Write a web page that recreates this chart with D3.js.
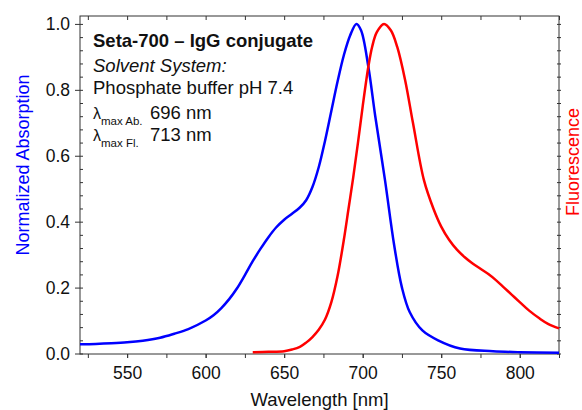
<!DOCTYPE html>
<html lang="en">
<head>
    <meta charset="UTF-8">
    <title>Seta-700 IgG conjugate spectra</title>
    <script src="https://d3js.org/d3.v7.min.js"></script>
    <style>
        body { margin: 0; background: #fff; }
        svg { display: block; font-family: "Liberation Sans", Arial, sans-serif; }
        .axis path, .axis line { stroke: #333; }
        .axis text { font-size: 17.5px; fill: #111; font-family: "Liberation Sans", Arial, sans-serif; }
        .note { font-size: 18.5px; fill: #111; }
    </style>
</head>
<body>
    <svg width="582" height="410"></svg>

    <script>
        // Absorption spectrum (blue), normalized
        const absWavelength = [520, 530, 540, 550, 560, 571, 580, 589, 600, 605, 610, 615, 620, 625, 630, 635, 640, 645,
            650, 655, 660, 664, 668, 672, 676, 680, 684, 688, 692, 696, 699, 703.6, 708, 714.2, 720, 725, 730,
            738, 748, 762, 783, 800, 825];
        const absValues = [0.028, 0.029, 0.031, 0.034, 0.039, 0.048, 0.06, 0.074, 0.1, 0.116, 0.138, 0.165, 0.198, 0.238,
            0.28, 0.318, 0.353, 0.383, 0.406, 0.424, 0.443, 0.465, 0.505, 0.565, 0.645, 0.735, 0.825, 0.905, 0.965, 1.0,
            0.98, 0.87, 0.72, 0.526, 0.33, 0.2, 0.125, 0.07, 0.04, 0.015, 0.007, 0.004, 0.002];

        // Fluorescence spectrum (red), normalized
        const flWavelength = [630, 640, 650, 655, 660, 664, 668, 672, 676, 680, 684, 688, 691, 694, 697, 700, 703.6, 706,
            709, 713.6, 718, 722, 727, 732, 739, 745, 750, 755, 760, 765, 770, 775, 780, 785, 790, 795, 800, 806, 812.7,
            818, 825];
        const flValues = [0.004, 0.005, 0.007, 0.012, 0.02, 0.033, 0.05, 0.072, 0.103, 0.155, 0.235, 0.345, 0.44, 0.535,
            0.64, 0.75, 0.87, 0.93, 0.975, 1.0, 0.98, 0.93, 0.83, 0.7, 0.526, 0.44, 0.385, 0.345, 0.315, 0.292, 0.273, 0.257,
            0.241, 0.222, 0.2, 0.178, 0.156, 0.13, 0.106, 0.09, 0.076];

        const xMajorTicks = [550, 600, 650, 700, 750, 800];
        const xMinorTicks = [525, 550, 575, 600, 625, 650, 675, 700, 725, 750, 775, 800, 825];
        const yMajorTicks = [0, 0.2, 0.4, 0.6, 0.8, 1.0];
        const yMinorTicks = d3.range(0, 1.001, 0.04);

        const margin = {top: 16, right: 23, bottom: 56, left: 80},
              width = 582 - margin.left - margin.right,
              height = 410 - margin.top - margin.bottom;

        const svg = d3.select("svg")
            .append("g")
            .attr("transform", "translate(" + margin.left + "," + margin.top + ")");

        const x = d3.scaleLinear()
            .domain([520, 825])
            .range([0, width]);

        const y = d3.scaleLinear()
            .domain([0, 1.024])
            .range([height - 0.5, 0]);

        // frame
        svg.append("rect")
            .attr("x", 0).attr("y", 0)
            .attr("width", width).attr("height", height)
            .attr("fill", "none")
            .attr("stroke", "#333");

        // bottom axis: all ticks outward, labels on majors
        svg.append("g")
            .attr("class", "axis")
            .attr("transform", "translate(0," + height + ")")
            .call(d3.axisBottom(x).tickValues(xMinorTicks).tickSize(4).tickFormat(""))
            .call(g => g.select(".domain").remove());
        svg.append("g")
            .attr("class", "axis")
            .attr("transform", "translate(0," + height + ")")
            .call(d3.axisBottom(x).tickValues(xMajorTicks).tickSize(4).tickPadding(9).tickFormat(d3.format("d")))
            .call(g => g.select(".domain").remove());

        // top axis: inward ticks
        svg.append("g")
            .attr("class", "axis")
            .call(d3.axisBottom(x).tickValues(xMinorTicks).tickSize(4).tickFormat(""))
            .call(g => g.select(".domain").remove());

        // left axis: major outward with labels, minor inward
        svg.append("g")
            .attr("class", "axis")
            .call(d3.axisLeft(y).tickValues(yMajorTicks).tickSize(5).tickPadding(5).tickFormat(d3.format(".1f")))
            .call(g => g.select(".domain").remove());
        svg.append("g")
            .attr("class", "axis")
            .call(d3.axisRight(y).tickValues(yMinorTicks).tickSize(3).tickFormat(""))
            .call(g => g.select(".domain").remove());

        // right axis: small crossing ticks
        svg.append("g")
            .attr("class", "axis")
            .attr("transform", "translate(" + (width - 2) + ",0)")
            .call(d3.axisRight(y).tickValues(yMinorTicks).tickSize(4).tickFormat(""))
            .call(g => g.select(".domain").remove());

        const line = d3.line()
            .x(d => x(d[0]))
            .y(d => y(d[1]))
            .curve(d3.curveCatmullRom.alpha(0.5));

        const absData = absWavelength.map((w, i) => [w, absValues[i]]);
        const flData = flWavelength.map((w, i) => [w, flValues[i]]);

        svg.append("path")
            .datum(absData)
            .attr("fill", "none")
            .attr("stroke", "#0000ff")
            .attr("stroke-width", 2.5)
            .attr("d", line);

        svg.append("path")
            .datum(flData)
            .attr("fill", "none")
            .attr("stroke", "#ff0000")
            .attr("stroke-width", 2.5)
            .attr("d", line);

        // axis titles
        svg.append("text")
            .attr("class", "note")
            .attr("x", width / 2)
            .attr("y", height + 52)
            .style("text-anchor", "middle")
            .text("Wavelength [nm]");

        svg.append("text")
            .attr("transform", "translate(" + (29 - margin.left) + ",149) rotate(-90)")
            .style("text-anchor", "middle")
            .style("font-size", "18px")
            .attr("fill", "#0000ff")
            .text("Normalized Absorption");

        svg.append("text")
            .attr("transform", "translate(" + (579 - margin.left) + ",146) rotate(-90)")
            .style("text-anchor", "middle")
            .style("font-size", "18px")
            .attr("fill", "#ff0000")
            .text("Fluorescence");

        // annotation block
        const tx = 13;
        svg.append("text").attr("class", "note")
            .attr("x", tx).attr("y", 31)
            .style("font-weight", "bold")
            .text("Seta-700 \u2013 IgG conjugate");
        svg.append("text").attr("class", "note")
            .attr("x", tx).attr("y", 56)
            .style("font-style", "italic")
            .text("Solvent System:");
        svg.append("text").attr("class", "note")
            .attr("x", tx).attr("y", 78)
            .text("Phosphate buffer pH 7.4");

        const lambdaRows = [["max Ab.", "696 nm", 103], ["max Fl.", "713 nm", 125]];
        lambdaRows.forEach(r => {
            const t = svg.append("text").attr("class", "note").attr("x", tx).attr("y", r[2]);
            t.append("tspan").style("font-size", "16px").text("\u03bb");
            t.append("tspan").style("font-size", "11.5px").attr("dy", 6).text(r[0]);
            svg.append("text").attr("class", "note")
                .attr("x", 70).attr("y", r[2])
                .text(r[1]);
        });
    </script>
</body>
</html>
